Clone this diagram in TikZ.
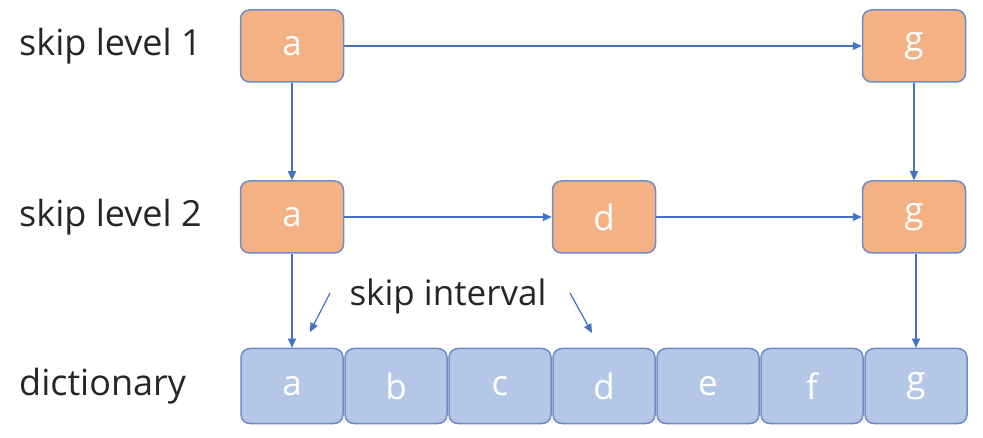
\documentclass[tikz,border=0pt]{standalone}
\usepackage{fontspec}
\setmainfont{Open Sans}
\usetikzlibrary{arrows.meta}
\definecolor{orfill}{HTML}{F4B183}
\definecolor{bdr}{HTML}{6F8CC6}
\definecolor{blfill}{HTML}{B4C7E7}
\definecolor{arr}{HTML}{4472C4}
\definecolor{txt}{HTML}{262626}
\begin{document}
\begin{tikzpicture}[x=1pt,y=-1pt,
  obox/.style={draw=bdr,line width=1.5pt,fill=orfill,rounded corners=9pt,minimum width=103pt,minimum height=72pt,text=white,font=\fontsize{35}{40}\selectfont,inner sep=0pt},
  dbox/.style={draw=bdr,line width=1.5pt,fill=blfill,rounded corners=9pt,minimum width=102pt,minimum height=75pt,text=white,font=\fontsize{35}{40}\selectfont,inner sep=0pt},
  lbl/.style={anchor=west,text=txt,font=\fontsize{36}{40}\selectfont,inner sep=0pt},
  conn/.style={draw=arr,line width=1.2pt,-{Triangle[length=9pt,width=8pt]}}]
\useasboundingbox (0,0) rectangle (983,438);
\node[lbl] (l1) at (19,46) {skip level 1};
\node[lbl] (l2) at (19,217) {skip level 2};
\node[lbl] (l3) at (19,386) {dictionary};
\node[obox] (a1) at (292,46) {a};
\node[obox] (g1) at (914,46) {g};
\node[obox] (a2) at (292,217) {a};
\node[obox] (d2) at (604,217) {d};
\node[obox] (g2) at (914,217) {g};
\foreach \n/\x in {a/292,b/396,c/500,d/604,e/708,f/812,g/916}{
  \node[dbox] (x\n) at (\x,386) {\n};
}
\node[text=txt,font=\fontsize{35}{40}\selectfont,inner sep=0pt] (si) at (448,296) {skip interval};
\coordinate (s1a) at (330,293);
\coordinate (s1b) at (310,332);
\coordinate (s2a) at (570,293);
\coordinate (s2b) at (592,333);
\draw[conn] (a1) -- (g1);
\draw[conn] (a1) -- (a2);
\draw[conn] (g1) -- (g2);
\draw[conn] (a2) -- (d2);
\draw[conn] (d2) -- (g2);
\draw[conn] (a2.south) -- (xa.north);
\draw[conn] (g2.south -| xg.north) -- (xg.north);
\draw[conn] (s1a) -- (s1b);
\draw[conn] (s2a) -- (s2b);
\end{tikzpicture}
\end{document}
